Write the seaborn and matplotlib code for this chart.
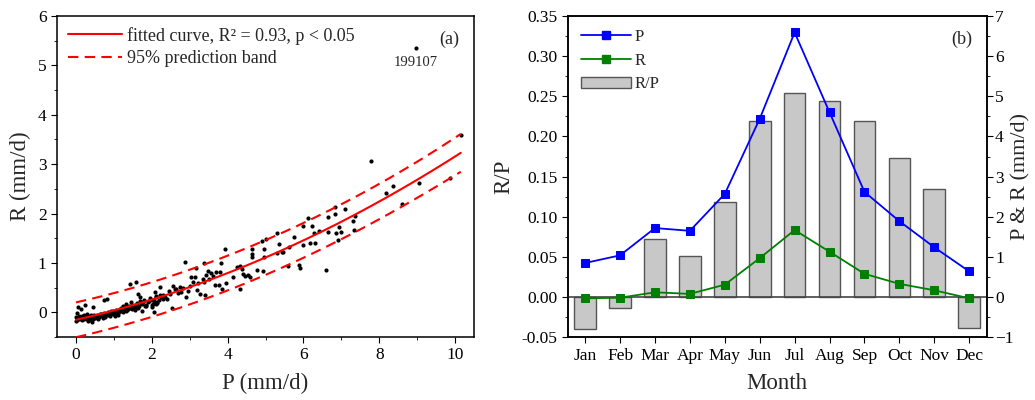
import numpy as np
import pandas as pd
import matplotlib
matplotlib.use("Agg")
import matplotlib.pyplot as plt
from matplotlib.ticker import MultipleLocator, FormatStrFormatter
from matplotlib.patches import Patch
from matplotlib.lines import Line2D
import seaborn as sns

# ---------------- data: panel (a) ----------------
p_obs = [8.96, 10.15, 7.78, 8.18, 8.37, 9.04, 9.87, 8.61,
         6.82, 7.10, 6.64, 6.82, 7.37, 7.32, 6.11, 6.00, 6.22, 6.95, 7.00, 7.33,
         6.29, 6.42, 6.64, 6.86, 6.90, 6.16, 6.30, 5.98, 5.31, 5.76, 4.91, 5.02,
         5.35, 5.61, 5.43, 5.31, 5.47, 4.64, 4.65, 4.64, 4.96, 4.95, 3.92, 2.87,
         5.59, 5.89, 5.92, 6.60, 4.93, 4.78, 4.54, 4.58, 4.32, 4.25, 4.39, 4.40,
         4.45, 4.32, 4.14, 3.37, 3.16, 3.04, 3.13, 3.35, 3.42, 3.48, 3.55, 3.70,
         3.79, 3.83, 3.61, 3.66, 3.77, 3.86, 3.96, 3.37, 3.40, 3.00, 3.18, 3.26,
         2.91, 2.74, 2.78, 2.65, 2.56, 2.46, 2.39, 2.52, 2.21, 2.08, 2.12, 2.30,
         2.15, 2.04, 1.95, 1.86, 2.00, 2.05, 1.77, 1.68, 1.64, 1.58, 1.42, 1.60,
         1.73, 1.51, 1.46, 1.33, 1.25, 1.38, 1.16, 1.07, 1.03, 1.11, 0.98, 0.89,
         0.81, 0.75, 0.81, 0.72, 0.63, 0.54, 0.46, 0.41, 0.37, 0.30, 0.24, 0.46,
         0.13, 0.06, 0.02, 0.04, 0.11, 0.19, 0.28, 0.32, 0.15, 0.07, 0.00, 0.00,
         0.05, 0.10, 0.12, 0.18, 0.20, 0.22, 0.25, 0.28, 0.30, 0.33, 0.35, 0.38,
         0.40, 0.43, 0.45, 0.48, 0.50, 0.52, 0.55, 0.58, 0.60, 0.62, 0.65, 0.68,
         0.70, 0.74, 0.78, 0.82, 0.85, 0.88, 0.92, 0.95, 1.00, 1.05, 1.10, 1.14,
         1.18, 1.20, 1.22, 1.26, 1.30, 1.35, 1.40, 1.44, 1.48, 1.52, 1.55, 1.60,
         1.65, 1.70, 1.75, 1.80, 1.85, 1.90, 1.95, 2.00, 2.05, 2.10, 2.15, 2.20,
         2.25, 2.30,
         0.03, 0.08, 0.16, 0.21, 0.27, 0.34, 0.39, 0.44, 0.51, 0.57, 0.64, 0.71,
         0.77, 0.84, 0.90, 0.97, 1.03, 1.09, 1.16, 1.24, 1.32, 1.39, 1.47, 1.56,
         1.63, 1.72, 1.82, 1.92, 2.02, 2.12, 2.22, 2.35, 2.48, 2.60, 2.70, 2.82,
         2.95, 3.08, 3.22, 3.50]
r_obs = [5.35, 3.60, 3.06, 2.41, 2.55, 2.61, 2.71, 2.20,
         2.14, 2.10, 1.94, 1.99, 1.95, 1.85, 1.90, 1.75, 1.74, 1.72, 1.63, 1.66,
         1.60, 1.64, 1.62, 1.60, 1.46, 1.40, 1.40, 1.37, 1.60, 1.53, 1.44, 1.49,
         1.38, 1.33, 1.22, 1.21, 1.23, 1.28, 1.18, 1.12, 1.12, 1.28, 1.29, 1.02,
         0.94, 0.96, 0.90, 0.85, 0.83, 0.86, 0.75, 0.71, 0.94, 0.91, 0.88, 0.77,
         0.73, 0.48, 0.71, 1.00, 0.90, 0.72, 0.72, 0.67, 0.75, 0.84, 0.79, 0.82,
         0.81, 1.00, 0.74, 0.56, 0.55, 0.48, 0.59, 0.62, 0.35, 0.54, 0.45, 0.37,
         0.30, 0.51, 0.42, 0.47, 0.54, 0.44, 0.27, 0.08, 0.52, 0.42, 0.34, 0.27,
         0.20, 0.17, 0.24, 0.13, 0.10, 0.01, 0.20, 0.30, 0.37, 0.62, 0.57, 0.10,
         0.03, 0.13, 0.20, 0.17, 0.13, 0.07, 0.07, 0.00, -0.07, -0.05, 0.03, -0.01,
         0.27, 0.24, -0.03, -0.07, -0.03, -0.08, -0.13, -0.20, -0.10, -0.03, 0.15, 0.10,
         0.07, 0.10, -0.01, -0.13, -0.10, -0.12, -0.13, -0.17, -0.15, -0.07, -0.10, -0.17,
         -0.12, -0.09, -0.14, -0.10, -0.06, -0.11, -0.08, -0.10, -0.12, -0.07, -0.11, -0.09,
         -0.13, -0.08, -0.10, -0.06, -0.12, -0.09, -0.05, -0.10, -0.07, -0.09, -0.04, -0.08,
         -0.06, -0.02, -0.05, -0.03, 0.00, -0.04, 0.02, -0.01, 0.01, 0.04, -0.02, 0.05,
         0.02, 0.08, 0.04, 0.06, 0.10, 0.05, 0.12, 0.08, 0.15, 0.10, 0.04, 0.18,
         0.12, 0.22, 0.16, 0.25, 0.14, 0.20, 0.28, 0.15, 0.22, 0.30, 0.18, 0.25,
         0.32, 0.35,
         -0.15, -0.13, -0.08, -0.14, -0.12, -0.15, -0.06, -0.12, -0.08, -0.13, -0.06, -0.11,
         -0.09, -0.06, -0.08, -0.03, -0.05, 0.00, 0.02, 0.01, 0.03, 0.09, 0.06, 0.14,
         0.09, 0.18, 0.12, 0.22, 0.24, 0.16, 0.36, 0.30, 0.38, 0.48, 0.40, 0.50,
         0.44, 0.62, 0.60, 0.68]
outlier_label = "199107"
fit_label = "fitted curve, R² = 0.93, p < 0.05"
band_label = "95% prediction band"

# ---------------- data: panel (b) ----------------
months = ["Jan", "Feb", "Mar", "Apr", "May", "Jun", "Jul", "Aug", "Sep", "Oct", "Nov", "Dec"]
ratio_rp = [-0.040, -0.014, 0.072, 0.051, 0.119, 0.219, 0.254, 0.244, 0.219, 0.173, 0.135, -0.039]
p_month = [0.85, 1.04, 1.72, 1.65, 2.57, 4.44, 6.59, 4.60, 2.62, 1.89, 1.24, 0.64]
r_month = [-0.03, -0.015, 0.12, 0.08, 0.31, 0.97, 1.67, 1.13, 0.58, 0.33, 0.17, -0.03]

# ---------------- style ----------------
sns.set_style("ticks")
plt.rcParams["font.family"] = ["Liberation Serif", "DejaVu Serif"]
plt.rcParams["axes.linewidth"] = 1.1
plt.rcParams["xtick.major.size"] = 4
plt.rcParams["ytick.major.size"] = 4
plt.rcParams["xtick.minor.size"] = 2.2
plt.rcParams["ytick.minor.size"] = 2.2
plt.rcParams["xtick.color"] = "black"
plt.rcParams["ytick.color"] = "black"
plt.rcParams["axes.edgecolor"] = "black"

fig = plt.figure(figsize=(10.35, 4.0), dpi=100)
ax1 = fig.add_axes([0.0551, 0.1575, 0.4029, 0.8025])
ax2 = fig.add_axes([0.5485, 0.1568, 0.4048, 0.8033])

tick_fs = 12.5
label_fs = 16.5

# ---------------- panel (a) ----------------
df_a = pd.DataFrame({"P": p_obs, "R": r_obs})
sns.scatterplot(data=df_a, x="P", y="R", ax=ax1, color="black", s=9,
                edgecolor="black", linewidth=0, zorder=3)

P = np.asarray(p_obs)
R = np.asarray(r_obs)
i_out = int(np.argmax(R))
keep = np.arange(len(P)) != i_out          # fit without the labelled outlier
Pf, Rf = P[keep], R[keep]
X = np.column_stack([np.ones_like(Pf), Pf, Pf ** 2])
beta, *_ = np.linalg.lstsq(X, Rf, rcond=None)
resid = Rf - X @ beta
dof = len(Pf) - 3
s = np.sqrt(np.sum(resid ** 2) / dof)
XtX_inv = np.linalg.inv(X.T @ X)
xg = np.linspace(P.min(), P.max(), 200)
Xg = np.column_stack([np.ones_like(xg), xg, xg ** 2])
yg = Xg @ beta
lev = np.einsum("ij,jk,ik->i", Xg, XtX_inv, Xg)
half = 1.97 * s * np.sqrt(1 + lev)
curve = pd.DataFrame({"P": xg, "fit": yg, "lo": yg - half, "hi": yg + half})
sns.lineplot(data=curve, x="P", y="fit", ax=ax1, color="red", lw=1.5, zorder=4)
sns.lineplot(data=curve, x="P", y="hi", ax=ax1, color="red", lw=1.5, zorder=4)
sns.lineplot(data=curve, x="P", y="lo", ax=ax1, color="red", lw=1.5, zorder=4)
ax1.lines[1].set_dashes([5, 3])
ax1.lines[2].set_dashes([5, 3])

ax1.annotate(outlier_label, (P[i_out], R[i_out]), xytext=(0, -6),
             textcoords="offset points", ha="center", va="top", fontsize=10.5)

ax1.set_xlim(-0.5, 10.5)
ax1.set_ylim(-0.5, 6)
ax1.xaxis.set_major_locator(MultipleLocator(2))
ax1.xaxis.set_minor_locator(MultipleLocator(1))
ax1.yaxis.set_major_locator(MultipleLocator(1))
ax1.yaxis.set_minor_locator(MultipleLocator(0.5))
ax1.tick_params(labelsize=tick_fs)
ax1.set_xlabel("P (mm/d)", fontsize=label_fs, labelpad=7)
ax1.set_ylabel("R (mm/d)", fontsize=label_fs, labelpad=5)
for sp in ax1.spines.values():
    sp.set_visible(True)
ax1.text(0.965, 0.955, "(a)", transform=ax1.transAxes, ha="right", va="top", fontsize=13)
h_a = [Line2D([], [], color="red", lw=1.5),
       Line2D([], [], color="red", lw=1.5, dashes=[5, 3])]
ax1.legend(h_a, [fit_label, band_label], loc="upper left", frameon=False,
           fontsize=13, handlelength=3.0, handletextpad=0.3, labelspacing=0.3,
           borderaxespad=0.3, borderpad=0.3, bbox_to_anchor=(0.0, 1.0))

# ---------------- panel (b) ----------------
df_b = pd.DataFrame({"Month": months, "RP": ratio_rp, "P": p_month, "R": r_month,
                     "pos": np.arange(len(months))})
sns.barplot(data=df_b, x="Month", y="RP", ax=ax2, color="#c8c8c8", width=0.62,
            edgecolor="#555555", linewidth=1.0, saturation=1, order=months, zorder=2)
ax2.axhline(0, color="#444444", lw=1.2, zorder=3)
ax2.set_xlim(-0.5, 11.5)
ax2.set_ylim(-0.05, 0.35)
ax2.yaxis.set_major_locator(MultipleLocator(0.05))
ax2.yaxis.set_minor_locator(MultipleLocator(0.025))
ax2.yaxis.set_major_formatter(FormatStrFormatter("%.2f"))
ax2.tick_params(labelsize=tick_fs)
ax2.set_xlabel("Month", fontsize=label_fs, labelpad=7)
ax2.set_ylabel("R/P", fontsize=label_fs, labelpad=5)

ax3 = ax2.twinx()
sns.lineplot(data=df_b, x="pos", y="P", ax=ax3, color="#0000ff", marker="s",
             markersize=6, markeredgecolor="#0000ff", lw=1.3)
sns.lineplot(data=df_b, x="pos", y="R", ax=ax3, color="#008000", marker="s",
             markersize=6, markeredgecolor="#008000", lw=1.3)
ax3.set_ylim(-1, 7)
ax3.yaxis.set_major_locator(MultipleLocator(1))
ax3.yaxis.set_minor_locator(MultipleLocator(0.5))
ax3.tick_params(labelsize=tick_fs, pad=2)
ax3.set_ylabel("P & R (mm/d)", fontsize=16)
ax3.yaxis.set_label_coords(1.082, 0.5)
ax3.yaxis.label.set_va("center")
ax3.set_xlim(-0.5, 11.5)
for sp in list(ax2.spines.values()) + list(ax3.spines.values()):
    sp.set_visible(True)
ax3.text(0.965, 0.955, "(b)", transform=ax3.transAxes, ha="right", va="top", fontsize=13)

h_b = [Line2D([], [], color="#0000ff", lw=1.3, marker="s", markersize=6),
       Line2D([], [], color="#008000", lw=1.3, marker="s", markersize=6),
       Patch(facecolor="#c8c8c8", edgecolor="#555555", linewidth=1.0)]
ax3.legend(h_b, ["P", "R", "R/P"], loc="upper left", frameon=False, fontsize=12,
           handlelength=3.0, handletextpad=0.2, labelspacing=0.45, borderaxespad=0.4)

fig.savefig("out.png", dpi=100)
